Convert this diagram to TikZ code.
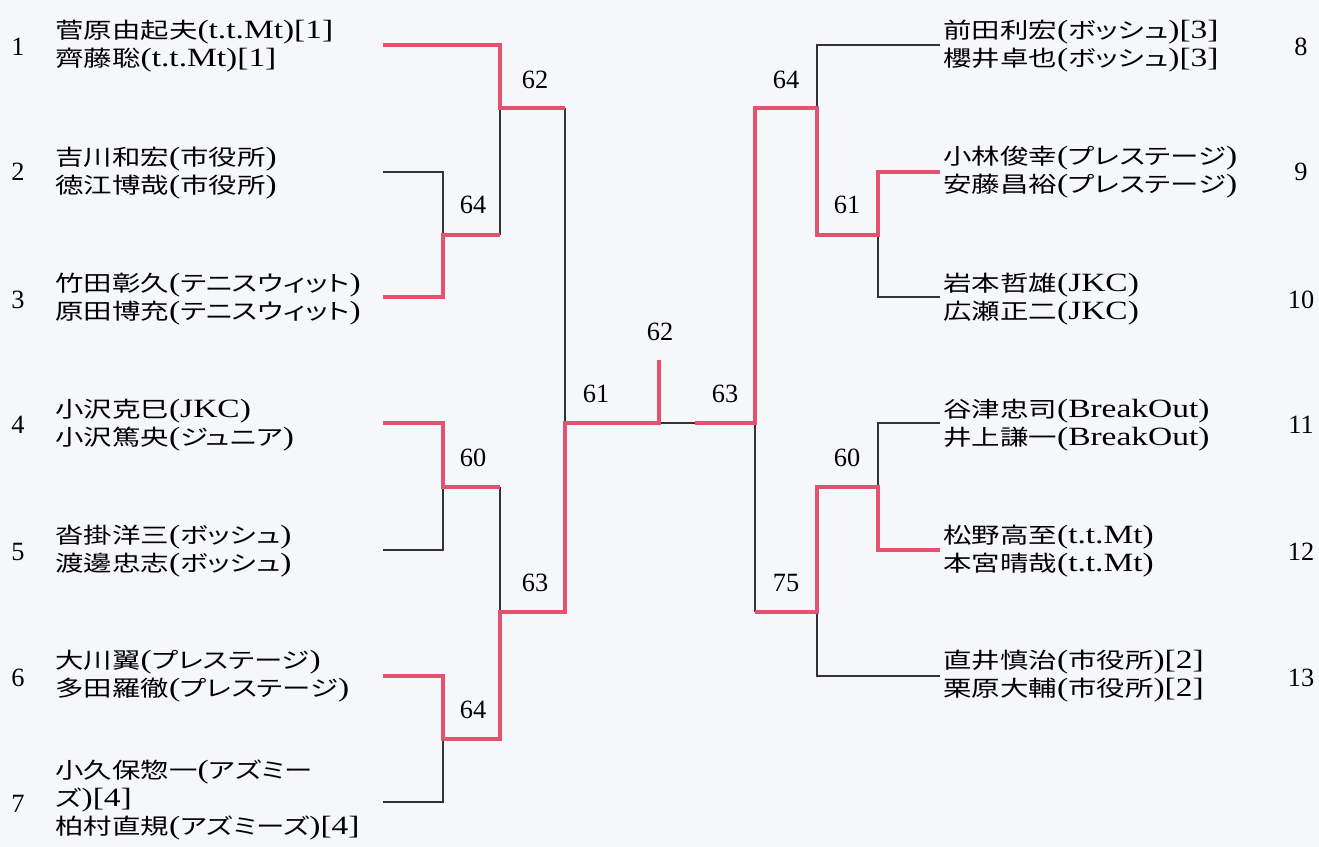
\documentclass[tikz,border=0pt]{standalone}
\usepackage{fontspec}
\setmainfont{Liberation Serif}
\newfontfamily\cjk[Scale=0.83,FakeStretch=1.3,RawFeature={+palt}]{Noto Sans CJK JP}
\newfontfamily\wide[FakeStretch=1.27]{Liberation Serif}
\usepackage{tikz}
\usetikzlibrary{positioning}
\usetikzlibrary{calc}
\definecolor{winred}{RGB}{229,82,112}
\definecolor{paper}{RGB}{246,247,251}
\newcommand{\jp}[1]{{\cjk #1}}
\newcommand{\team}[3]{\node(#1)[pair] at (#2) {#3}}

\begin{document}
\begin{tikzpicture}[
        x=0.02cm, y=-0.02cm,
        every node/.style={font=\fontsize{15}{15.9}\selectfont},
        pair/.style={anchor=west, align=left, inner sep=0pt,
                     font=\fontsize{15}{15.9}\selectfont\wide},
        seed/.style={inner sep=0pt},
        score/.style={inner sep=0pt},
        win/.style={draw=winred, line width=2.2pt},
        lose/.style={draw=black!80, line width=0.9pt}
      ]
      \fill[paper] (0,0) rectangle (1319,847);
      \useasboundingbox (0,0) rectangle (1319,847);

      % left half
      \team{t1}{55,46}{\jp{菅原由起夫}(t.t.Mt)[1]\\\jp{齊藤聡}(t.t.Mt)[1]};
      \team{t2}{55,173}{\jp{吉川和宏}(\jp{市役所})\\\jp{徳江博哉}(\jp{市役所})};
      \team{t3}{55,299}{\jp{竹田彰久}(\jp{テニスウィット})\\\jp{原田博充}(\jp{テニスウィット})};
      \team{t4}{55,425}{\jp{小沢克巳}(JKC)\\\jp{小沢篤央}(\jp{ジュニア})};
      \team{t5}{55,551}{\jp{沓掛洋三}(\jp{ボッシュ})\\\jp{渡邊忠志}(\jp{ボッシュ})};
      \team{t6}{55,676}{\jp{大川翼}(\jp{プレステージ})\\\jp{多田羅徹}(\jp{プレステージ})};
      \team{t7}{55,800}{\jp{小久保惣一}(\jp{アズミー}\\\jp{ズ})[4]\\\jp{柏村直規}(\jp{アズミーズ})[4]};
      \foreach \n/\y in {1/47,2/172,3/300,4/425,5/552,6/678,7/804}
        \node (s\n) [seed] at (18,\y) {\n};

      % right half
      \team{t8}{943,46}{\jp{前田利宏}(\jp{ボッシュ})[3]\\\jp{櫻井卓也}(\jp{ボッシュ})[3]};
      \team{t9}{943,172}{\jp{小林俊幸}(\jp{プレステージ})\\\jp{安藤昌裕}(\jp{プレステージ})};
      \team{t10}{943,299}{\jp{岩本哲雄}(JKC)\\\jp{広瀬正二}(JKC)};
      \team{t11}{943,425}{\jp{谷津忠司}(BreakOut)\\\jp{井上謙一}(BreakOut)};
      \team{t12}{943,551}{\jp{松野高至}(t.t.Mt)\\\jp{本宮晴哉}(t.t.Mt)};
      \team{t13}{943,676}{\jp{直井慎治}(\jp{市役所})[2]\\\jp{栗原大輔}(\jp{市役所})[2]};
      \foreach \n/\y in {8/47,9/172,10/300,11/425,12/552,13/678}
        \node (s\n) [seed] at (1301,\y) {\n};

      % line ends and junctions
      \coordinate (e1) at (383,45);  \coordinate (e2) at (383,172);
      \coordinate (e3) at (383,297); \coordinate (e4) at (383,423);
      \coordinate (e5) at (383,550); \coordinate (e6) at (383,676);
      \coordinate (e7) at (383,802);
      \coordinate (m23) at (443,235);  \coordinate (m1) at (500,108);
      \coordinate (m45) at (443,487);  \coordinate (m67) at (443,739);
      \coordinate (m4567) at (500,612); \coordinate (mL) at (565,423);
      \coordinate (fin) at (659,423);  \coordinate (fintop) at (659,360);
      \coordinate (fR) at (695,423);
      \coordinate (f8) at (940,45);   \coordinate (f9) at (940,172);
      \coordinate (f10) at (940,297); \coordinate (f11) at (940,423);
      \coordinate (f12) at (940,550); \coordinate (f13) at (940,676);
      \coordinate (n910) at (878,235);  \coordinate (n8) at (817,108);
      \coordinate (n1112) at (878,487); \coordinate (n13) at (817,612);
      \coordinate (mR) at (755,423);

      % losers
      \draw[lose] (e2) -| (m23);
      \draw[lose] (e5) -| (m45);
      \draw[lose] (e7) -| (m67);
      \draw[lose] (m23 -| m1) -- (m1);
      \draw[lose] (m45 -| m4567) -- (m4567);
      \draw[lose] (m1 -| mL) -- (mL);
      \draw[lose] (fin) -- (fR);
      \draw[lose] (f8) -| (n8);
      \draw[lose] (f10) -| (n910);
      \draw[lose] (f11) -| (n1112);
      \draw[lose] (f13) -| (n13);
      \draw[lose] (n13 -| mR) -- (mR);

      % winners
      \draw[win] (e1) -| (m1) -- (m1 -| mL);
      \draw[win] (e3) -| (m23) -- (m23 -| m1);
      \draw[win] (e4) -| (m45) -- (m45 -| m4567);
      \draw[win] (e6) -| (m67) -- (m67 -| m4567) -- (m4567) -| (mL) -- (fin) -- (fintop);
      \draw[win] (f9) -| (n910) -- (n910 -| n8) -- (n8) -- (n8 -| mR) -- (mR) -- (fR);
      \draw[win] (f12) -| (n1112) -- (n1112 -| n13) -- (n13) -- (n13 -| mR);

      % scores
      \node (c1) [score] at (535,80) {62};
      \node (c23) [score] at (473,205) {64};
      \node (c45) [score] at (473,458) {60};
      \node (c67) [score] at (473,710) {64};
      \node (c4567) [score] at (535,583) {63};
      \node (cL) [score] at (596,394) {61};
      \node (cF) [score] at (660,332) {62};
      \node (cR) [score] at (725,394) {63};
      \node (c8) [score] at (786,80) {64};
      \node (c910) [score] at (847,205) {61};
      \node (c1112) [score] at (847,458) {60};
      \node (c13) [score] at (786,583) {75};

    \end{tikzpicture}
\end{document}
